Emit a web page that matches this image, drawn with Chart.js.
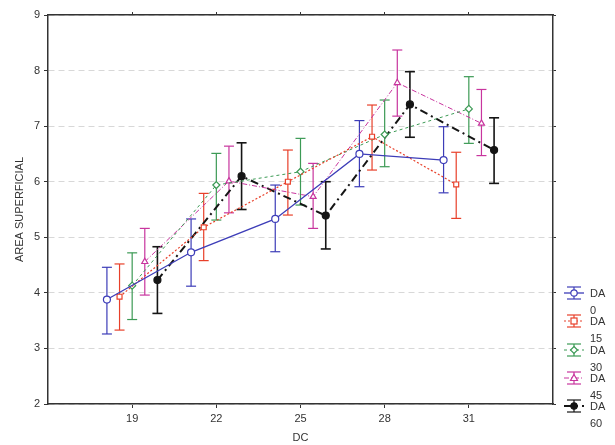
<!DOCTYPE html>
<html>
<head>
<meta charset="utf-8">
<script src="https://cdn.jsdelivr.net/npm/chart.js@4.4.1/dist/chart.umd.min.js"></script>
<style>
  html, body { margin: 0; padding: 0; background: #fff; }
  #wrap { position: relative; width: 615px; height: 445px; }
  #legend { position: absolute; left: 563px; top: 284px; font: 11px "Liberation Sans", Arial, sans-serif; color: #333; }
  .item { position: relative; height: 28.3px; }
  .item svg { position: absolute; left: 0; top: 0; }
  .item .t { position: absolute; left: 27px; top: 1px; line-height: 17px; }
</style>
</head>
<body>
<div id="wrap">
  <canvas id="chart" width="615" height="445"></canvas>
  <div id="legend"></div>
</div>
<script>
const dcTicks = [19, 22, 25, 28, 31];
const seriesLabels = ['DA 0', 'DA 15', 'DA 30', 'DA 45', 'DA 60'];
const dodge = [-0.9, -0.45, 0, 0.45, 0.9]; // horizontal spread of the groups

const da0Mean = [3.88, 4.73, 5.33, 6.50, 6.39];
const da0Low  = [3.26, 4.12, 4.74, 5.91, 5.80];
const da0High = [4.46, 5.33, 5.94, 7.10, 6.99];

const da15Mean = [3.93, 5.18, 6.00, 6.81, 5.95];
const da15Low  = [3.33, 4.58, 5.40, 6.21, 5.34];
const da15High = [4.52, 5.79, 6.57, 7.38, 6.53];

const da30Mean = [4.13, 5.94, 6.18, 6.85, 7.31];
const da30Low  = [3.52, 5.31, 5.58, 6.27, 6.69];
const da30High = [4.72, 6.51, 6.78, 7.47, 7.89];

const da45Mean = [4.56, 6.01, 5.73, 7.78, 7.05];
const da45Low  = [3.96, 5.44, 5.16, 7.18, 6.47];
const da45High = [5.16, 6.64, 6.33, 8.37, 7.66];

const da60Mean = [4.23, 6.10, 5.39, 7.39, 6.57];
const da60Low  = [3.63, 5.50, 4.79, 6.80, 5.97];
const da60High = [4.83, 6.70, 6.00, 7.98, 7.15];

const means = [da0Mean, da15Mean, da30Mean, da45Mean, da60Mean];
const lows = [da0Low, da15Low, da30Low, da45Low, da60Low];
const highs = [da0High, da15High, da30High, da45High, da60High];

const styles = [
  {color: '#3d3db8', dash: [], width: 1.3, point: 'circle', fill: '#fff', bar: 1.2},
  {color: '#e8402a', dash: [2, 2], width: 1.2, point: 'rect', fill: '#fff', bar: 1.2},
  {color: '#3c9a55', dash: [3, 3], width: 1, point: 'rectRot', fill: '#fff', bar: 1.2},
  {color: '#c8359e', dash: [5, 2, 1, 2], width: 1, point: 'triangle', fill: '#fff', bar: 1.2},
  {color: '#151515', dash: [8, 4, 2, 4], width: 2, point: 'circle', fill: '#151515', bar: 1.6}
];

const font = {family: '"Liberation Sans", Arial, sans-serif', size: 11};

let datasets = [];
seriesLabels.forEach(function(name, s) {
  let st = styles[s];
  datasets.push({
    label: name,
    data: dcTicks.map((dc, i) => ({x: dc + dodge[s], y: means[s][i]})),
    borderColor: st.color,
    borderWidth: st.width,
    borderDash: st.dash,
    pointStyle: st.point,
    pointRadius: 3.5,
    pointBackgroundColor: st.fill,
    pointBorderColor: st.color,
    pointBorderWidth: 1.2,
    tension: 0,
    order: 0
  });
  let bars = [];
  dcTicks.forEach(function(dc, i) {
    bars.push({x: dc + dodge[s], y: lows[s][i]});
    bars.push({x: dc + dodge[s], y: highs[s][i]});
    bars.push({x: dc + dodge[s], y: null});
  });
  datasets.push({
    label: name + ' error',
    data: bars,
    borderColor: st.color,
    borderWidth: st.bar,
    pointStyle: 'line',
    pointRadius: 5,
    pointBorderColor: st.color,
    pointBorderWidth: st.bar,
    spanGaps: false,
    order: 1
  });
});

let config = {
  type: 'line',
  data: {datasets: datasets},
  options: {
    responsive: false,
    animation: false,
    events: [],
    plugins: {legend: {display: false}, tooltip: {enabled: false}},
    layout: {padding: 0},
    scales: {
      x: {
        type: 'linear', position: 'bottom', min: 16, max: 34,
        afterBuildTicks: sc => { sc.ticks = dcTicks.map(v => ({value: v})); },
        afterFit: sc => { sc.height = 41; },
        grid: {drawOnChartArea: false, tickLength: 4, tickColor: '#333'},
        border: {color: '#333', width: 1.5},
        ticks: {color: '#333', font: font, padding: 4, maxRotation: 0},
        title: {display: true, text: 'DC', color: '#333', font: font, padding: {top: 0, bottom: 0}}
      },
      x2: {
        type: 'linear', position: 'top', min: 16, max: 34,
        afterBuildTicks: sc => { sc.ticks = dcTicks.map(v => ({value: v})); },
        afterFit: sc => { sc.height = 15; },
        grid: {drawOnChartArea: false, tickLength: 3, tickColor: '#333'},
        border: {color: '#333', width: 1.5},
        ticks: {display: false}
      },
      y: {
        type: 'linear', position: 'left', min: 2, max: 9,
        afterFit: sc => { sc.width = 48; },
        grid: {color: '#d8d8d8', tickLength: 4, tickColor: '#333'},
        border: {color: '#333', width: 1.5, dash: [6, 4]},
        ticks: {stepSize: 1, color: '#333', font: font, padding: 4},
        title: {display: true, text: 'AREA SUPERFICIAL', color: '#333', font: font, padding: {top: 13, bottom: 0}}
      },
      y2: {
        type: 'linear', position: 'right', min: 2, max: 9,
        afterFit: sc => { sc.width = 62; },
        grid: {drawOnChartArea: false, tickLength: 3, tickColor: '#333'},
        border: {color: '#333', width: 1.5},
        ticks: {display: false, stepSize: 1}
      }
    }
  }
};

let ctx = document.getElementById('chart').getContext('2d');
window.daChart = new Chart(ctx, config);

function legendIcon(st) {
  let dash = st.dash.length ? ' stroke-dasharray="' + st.dash.join(',') + '"' : '';
  let marker;
  if (st.point === 'rect') {
    marker = '<rect x="8" y="6" width="6" height="6" fill="' + st.fill + '" stroke="' + st.color + '" stroke-width="1.2"/>';
  } else if (st.point === 'rectRot') {
    marker = '<polygon points="11,5.5 14.5,9 11,12.5 7.5,9" fill="' + st.fill + '" stroke="' + st.color + '" stroke-width="1.2"/>';
  } else if (st.point === 'triangle') {
    marker = '<polygon points="11,5.5 14.5,11.5 7.5,11.5" fill="' + st.fill + '" stroke="' + st.color + '" stroke-width="1.2"/>';
  } else {
    marker = '<circle cx="11" cy="9" r="3.2" fill="' + st.fill + '" stroke="' + st.color + '" stroke-width="1.2"/>';
  }
  return '<svg width="22" height="18">' +
    '<line x1="1" y1="9" x2="21" y2="9" stroke="' + st.color + '" stroke-width="' + st.width + '"' + dash + '/>' +
    '<line x1="11" y1="3" x2="11" y2="15" stroke="' + st.color + '" stroke-width="1.2"/>' +
    '<line x1="4" y1="3" x2="18" y2="3" stroke="' + st.color + '" stroke-width="1.2"/>' +
    '<line x1="4" y1="15" x2="18" y2="15" stroke="' + st.color + '" stroke-width="1.2"/>' +
    marker + '</svg>';
}

let html = '';
seriesLabels.forEach(function(name, s) {
  let parts = name.split(' ');
  html += '<div class="item">' + legendIcon(styles[s]) + '<div class="t">' + parts[0] + '<br>' + parts[1] + '</div></div>';
});
document.getElementById('legend').innerHTML = html;
</script>
</body>
</html>
